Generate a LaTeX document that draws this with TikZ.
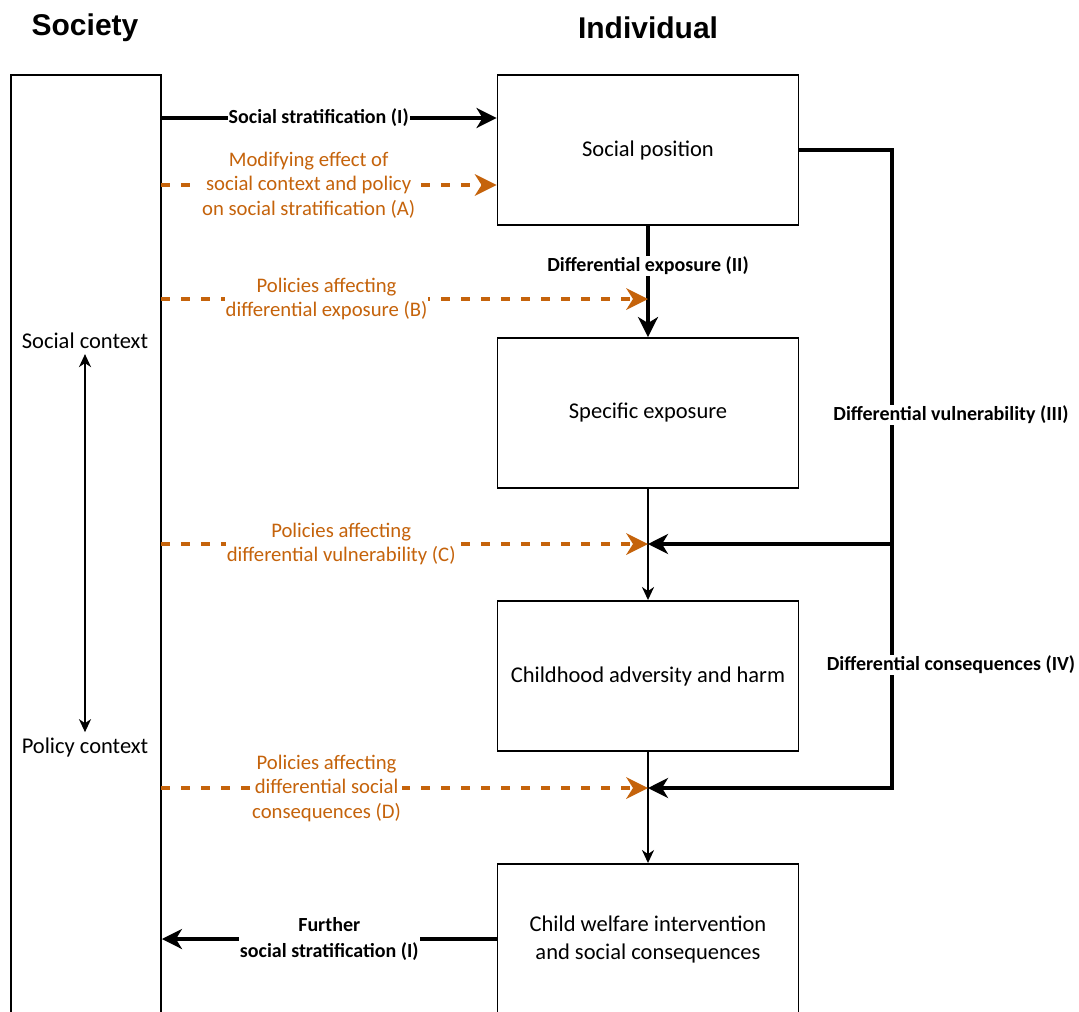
\documentclass[tikz,border=0pt]{standalone}
\usepackage{fontspec}
\setmainfont{Carlito}
\newfontfamily\headfont{Liberation Sans}
\usepackage{xcolor}
\usepackage{tikz}
\usetikzlibrary{arrows.meta, positioning, calc}
\definecolor{polOrange}{HTML}{C5630B}
\tikzset{
  lvlbox/.style={draw, line width=1.9pt, fill=white, minimum width=301pt, minimum height=150pt,
                 align=center, font=\fontsize{22.5}{28}\selectfont},
  ctxbox/.style={draw, line width=1.9pt, minimum width=150pt, minimum height=960pt},
  ctxtxt/.style={font=\fontsize{22.5}{28}\selectfont, inner sep=1pt},
  headtxt/.style={font=\headfont\bfseries\fontsize{30}{36}\selectfont},
  strong/.style={line width=3.4pt, -{Stealth[length=20pt, width=20pt, inset=6pt]}},
  plain/.style={line width=1.9pt, -{Stealth[length=13pt, width=12pt, inset=4pt]}},
  pol/.style={line width=3.2pt, draw=polOrange, dash pattern=on 9pt off 11pt,
              -{Stealth[length=22pt, width=22pt, inset=7pt, fill=polOrange, line width=0pt]}},
  lab/.style={font=\bfseries\fontsize{20}{26}\selectfont, fill=white, inner sep=1pt, align=center},
  plab/.style={font=\fontsize{20.7}{24.5}\selectfont, text=polOrange, fill=white, inner sep=1pt, align=center},
}

\begin{document}
\begin{tikzpicture}[x=1pt, y=-1pt]
\clip (0,0) rectangle (1079,1012);
\node[headtxt] (hsoc) at (85,28) {Society};
\node[headtxt] (hind) at (648,28) {Individual};

% society column
\node[ctxbox] (society) at (86,555) {};
\node[ctxtxt] (ctxsoc) at (85,341) {Social context};
\node[ctxtxt] (ctxpol) at (85,747) {Policy context};
\draw[line width=1.9pt, {Stealth[length=13pt, width=12pt, inset=4pt]}-{Stealth[length=13pt, width=12pt, inset=4pt]}]
  ([yshift=-4pt]ctxsoc.south) -- ([yshift=4pt]ctxpol.north);

% individual column
\node[lvlbox] (socpos) at (648,150) {Social position};
\node[lvlbox] (specexp) at (648,413) {Specific exposure};
\node[lvlbox] (childadv) at (648,676) {Childhood adversity and harm};
\node[lvlbox] (welfare) at (648,939) {Child welfare intervention\\and social consequences};

\coordinate (sI) at (161,118);
\coordinate (sA) at (161,185);
\coordinate (sB) at (161,299);
\coordinate (sC) at (161,544);
\coordinate (sD) at (161,788);
\coordinate (jB) at (648,299);
\coordinate (jC) at (648,544);
\coordinate (jD) at (648,788);
\coordinate (rC) at (892,544);
\coordinate (rD) at (892,788);

\draw[strong] (sI) -- node[lab, pos=0.47]{Social stratification (I)} (socpos.west |- sI);
\draw[pol] (sA) -- node[plab, pos=0.44]{Modifying effect of\\social context and policy\\on social stratification (A)} (socpos.west |- sA);
\draw[strong] (socpos.south) -- node[lab, pos=0.36]{Differential exposure (II)} (specexp.north);
\draw[pol] (sB) -- node[plab, pos=0.34]{Policies affecting\\differential exposure (B)} (jB);
\draw[plain] (specexp.south) -- (childadv.north);
\draw[pol] (sC) -- node[plab, pos=0.37]{Policies affecting\\differential vulnerability (C)} (jC);
\draw[plain] (childadv.south) -- (welfare.north);
\draw[pol] (sD) -- node[plab, pos=0.34]{Policies affecting\\differential social\\consequences (D)} (jD);

% right loop
\draw[strong] (socpos.east) -| (rD) -- (jD);
\draw[strong] (rC) -- (jC);
\node[lab] (vuln) at (951,415) {Differential vulnerability (III)};
\node[lab] (conseq) at (951,665) {Differential consequences (IV)};

\draw[strong] (welfare.west) -- node[lab, pos=0.5]{Further\\social stratification (I)} (society.east |- welfare.west);
\end{tikzpicture}
\end{document}
